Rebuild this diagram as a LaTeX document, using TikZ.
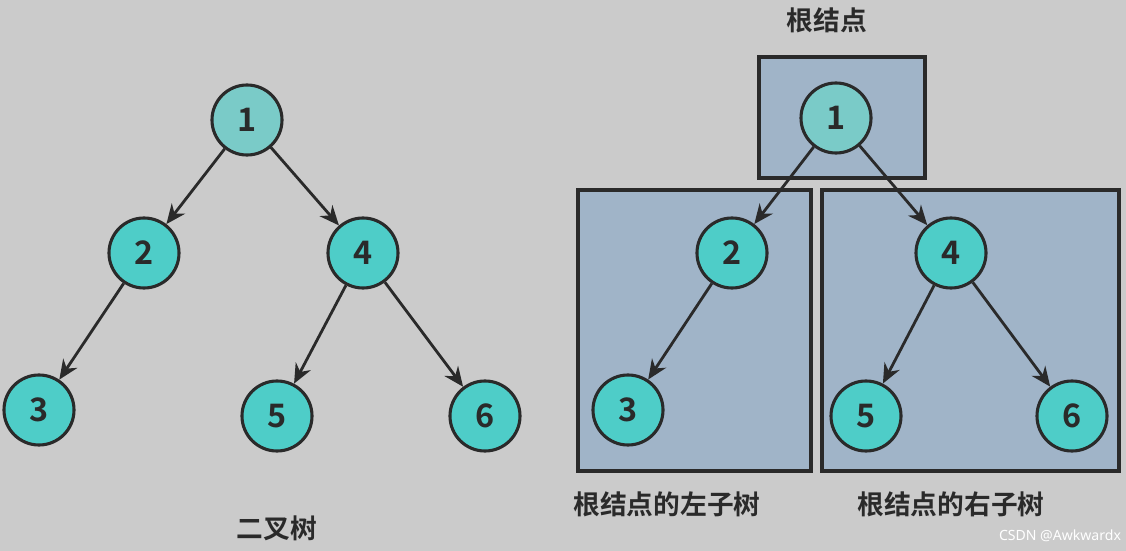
\documentclass[tikz,border=0pt]{standalone}
\usepackage{fontspec}
\setmainfont{Noto Sans}
\newfontfamily\cjk{Noto Sans CJK SC Bold}
\usetikzlibrary{arrows.meta}

\definecolor{bgray}{HTML}{CBCBCB}
\definecolor{rootc}{HTML}{7ACBC8}
\definecolor{leafc}{HTML}{4ECDC8}
\definecolor{boxc}{HTML}{A0B4C8}
\definecolor{linec}{HTML}{2A2A2A}

\tikzset{
  knot/.style={circle,draw=linec,line width=2.2pt,fill=leafc,minimum size=1.75cm,
    inner sep=0pt,font=\cjk\fontsize{23}{25}\selectfont,text=linec},
  rootknot/.style={knot,fill=rootc},
  edge/.style={draw=linec,line width=2pt,-{Stealth[length=14pt,width=12pt]}},
  subtree/.style={draw=linec,line width=2.2pt,fill=boxc},
  caption/.style={font=\cjk\fontsize{19}{21}\selectfont,text=linec}
}

\begin{document}
\begin{tikzpicture}[x=0.025cm,y=-0.025cm]
    \fill[bgray] (0,0) rectangle (1126,551);
    \useasboundingbox (0,0) rectangle (1126,551);

    % left: binary tree
    \node[rootknot](a1)at(247,120){1};
    \node[knot](a2)at(144,253){2};
    \node[knot](a4)at(363,253){4};
    \node[knot](a3)at(39,410){3};
    \node[knot](a5)at(277,416){5};
    \node[knot](a6)at(485,416){6};
    \draw[edge] (a1) to (a2);
    \draw[edge] (a1) to (a4);
    \draw[edge] (a2) to (a3);
    \draw[edge] (a4) to (a5);
    \draw[edge] (a4) to (a6);
    \node[caption](atitle)at(277,528){二叉树};

    % right: root and its subtrees
    \draw[subtree] (759,57) rectangle (925,178);
    \draw[subtree] (578,190) rectangle (811,471);
    \draw[subtree] (822,190) rectangle (1119,471);
    \node[rootknot](b1)at(836,118){1};
    \node[knot](b2)at(732,253){2};
    \node[knot](b4)at(951,253){4};
    \node[knot](b3)at(628,410){3};
    \node[knot](b5)at(866,416){5};
    \node[knot](b6)at(1072,416){6};
    \draw[edge] (b1) to (b2);
    \draw[edge] (b1) to (b4);
    \draw[edge] (b2) to (b3);
    \draw[edge] (b4) to (b5);
    \draw[edge] (b4) to (b6);
    \node[caption](broot)at(827,20){根结点};
    \node[caption](bleft)at(667,504){根结点的左子树};
    \node[caption](bright)at(951,504){根结点的右子树};

    \node[font=\fontsize{10}{12}\selectfont,text=white](mark)at(1060,536){CSDN @Awkwardx};
\end{tikzpicture}
\end{document}
